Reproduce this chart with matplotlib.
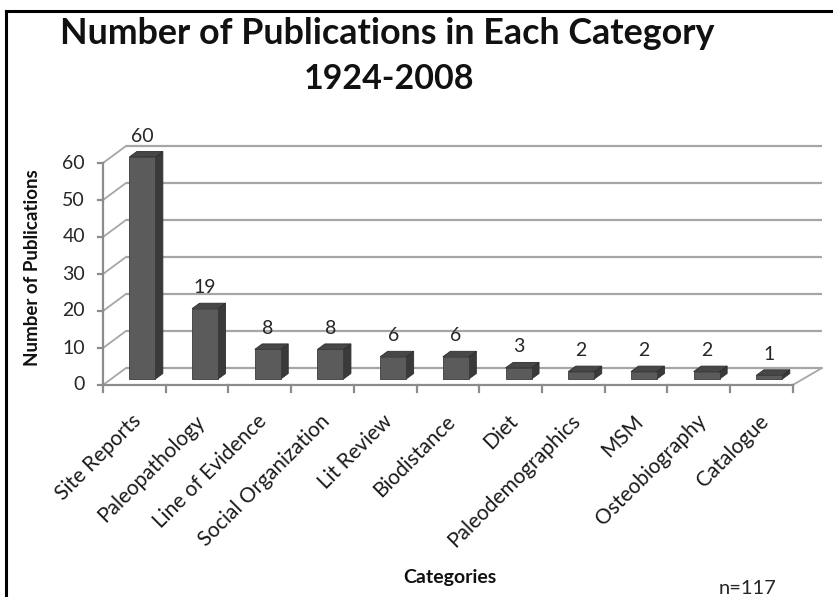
import matplotlib.pyplot as plt
from matplotlib.patches import Polygon

# Data
categories = ["Site Reports", "Paleopathology", "Line of Evidence", "Social Organization",
              "Lit Review", "Biodistance", "Diet", "Paleodemographics", "MSM",
              "Osteobiography", "Catalogue"]
counts = [60, 19, 8, 8, 6, 6, 3, 2, 2, 2, 1]
y_ticks = [0, 10, 20, 30, 40, 50, 60]
title_lines = ["Number of Publications in Each Category", "1924-2008"]
n_note = "n=117"

plt.rcParams['font.family'] = ['Lato', 'DejaVu Sans']

W, H = 833, 597
fig = plt.figure(figsize=(W / 100, H / 100), dpi=100)
ax = fig.add_axes([0, 0, 1, 1])
ax.axis('off')

# front plane of the pseudo-3D box, in pixels
x_px0, cat_px = 103, 62.7
y_px0, val_px = 385, 3.7
ax.set_xlim(-0.5 - x_px0 / cat_px, -0.5 + (W - x_px0) / cat_px)
ax.set_ylim((y_px0 - H) / val_px, y_px0 / val_px)

n = len(categories)
wall_dx, wall_dy = 23 / cat_px, 17 / val_px
off_dx, off_dy = 8 / cat_px, 6 / val_px
bar_dx, bar_dy = 7.5 / cat_px, 5.5 / val_px
half_w = 13 / cat_px

grid_c = '#a6a6a6'
axis_c = '#8c8c8c'

# back wall gridlines + side wall diagonals
for v in y_ticks:
    ax.plot([-0.5 + wall_dx, n - 0.5 + wall_dx + 0.1], [v + wall_dy] * 2,
            color=grid_c, lw=1.6, zorder=1, solid_capstyle='butt')
    ax.plot([-0.5, -0.5 + wall_dx], [v, v + wall_dy], color=grid_c, lw=1.3, zorder=1)
ax.plot([n - 0.5, n - 0.5 + wall_dx + 0.1], [0, wall_dy], color=grid_c, lw=1.3, zorder=1)

# front axes
ax.plot([-0.5, -0.5], [0, y_ticks[-1]], color=axis_c, lw=1.6, zorder=2)
ax.plot([-0.5, n - 0.5], [0, 0], color=axis_c, lw=1.6, zorder=2)
for v in y_ticks:
    ax.plot([-0.5 - 5 / cat_px, -0.5], [v, v], color=axis_c, lw=1.6, zorder=2)
    ax.text(-0.5 - 18 / cat_px, v, str(v), ha='right', va='center',
            fontsize=14, color='#262626')
for i in range(n + 1):
    ax.plot([i - 0.5] * 2, [0, -7 / val_px], color=axis_c, lw=1.6, zorder=2)

# bars
for i, v in enumerate(counts):
    l = i + off_dx - half_w
    r = i + off_dx + half_w
    b = off_dy
    t = off_dy + v
    front = [(l, b), (r, b), (r, t), (l, t)]
    side = [(r, b), (r + bar_dx, b + bar_dy), (r + bar_dx, t + bar_dy), (r, t)]
    top = [(l, t), (r, t), (r + bar_dx, t + bar_dy), (l + bar_dx, t + bar_dy)]
    ax.add_patch(Polygon(side, closed=True, fc='#3a3a3a', ec='#2e2e2e', lw=0.6, zorder=3))
    ax.add_patch(Polygon(top, closed=True, fc='#474747', ec='#2e2e2e', lw=0.6, zorder=3))
    ax.add_patch(Polygon(front, closed=True, fc='#5b5b5b', ec='#3a3a3a', lw=0.6, zorder=4))
    ax.text(i + off_dx, t + 21 / val_px, str(v), ha='center', va='center',
            fontsize=14, color='#262626', zorder=5)

# category labels
for i, name in enumerate(categories):
    ax.text(i - 3 / cat_px, -7 / val_px - 19 / val_px, name, rotation=45,
            rotation_mode='anchor', ha='right', va='top', fontsize=15, color='#1a1a1a')

# titles
fig.text(387 / W, 1 - 34 / H, title_lines[0], ha='center', va='center',
         fontsize=25.8, fontweight='bold', color='#111111')
fig.text(389 / W, 1 - 79 / H, title_lines[1], ha='center', va='center',
         fontsize=24.5, fontweight='bold', color='#111111')
fig.text(33 / W, 1 - 268 / H, "Number of Publications", rotation=90, ha='center',
         va='center', fontsize=13.5, fontweight='bold', color='#111111')
fig.text(450 / W, 1 - 577 / H, "Categories", ha='center', va='center',
         fontsize=14, fontweight='bold', color='#111111')
fig.text(747 / W, 1 - 588 / H, n_note, ha='center', va='center',
         fontsize=14.5, color='#262626')

# black frame on top and left (cropped screenshot edge)
fig.add_artist(plt.Line2D([6 / W, 6 / W], [0, 1 - 11 / H], color='black', lw=2.2))
fig.add_artist(plt.Line2D([6 / W, 1], [1 - 11 / H, 1 - 11 / H], color='black', lw=2.2))

fig.savefig("out.png", dpi=100)
